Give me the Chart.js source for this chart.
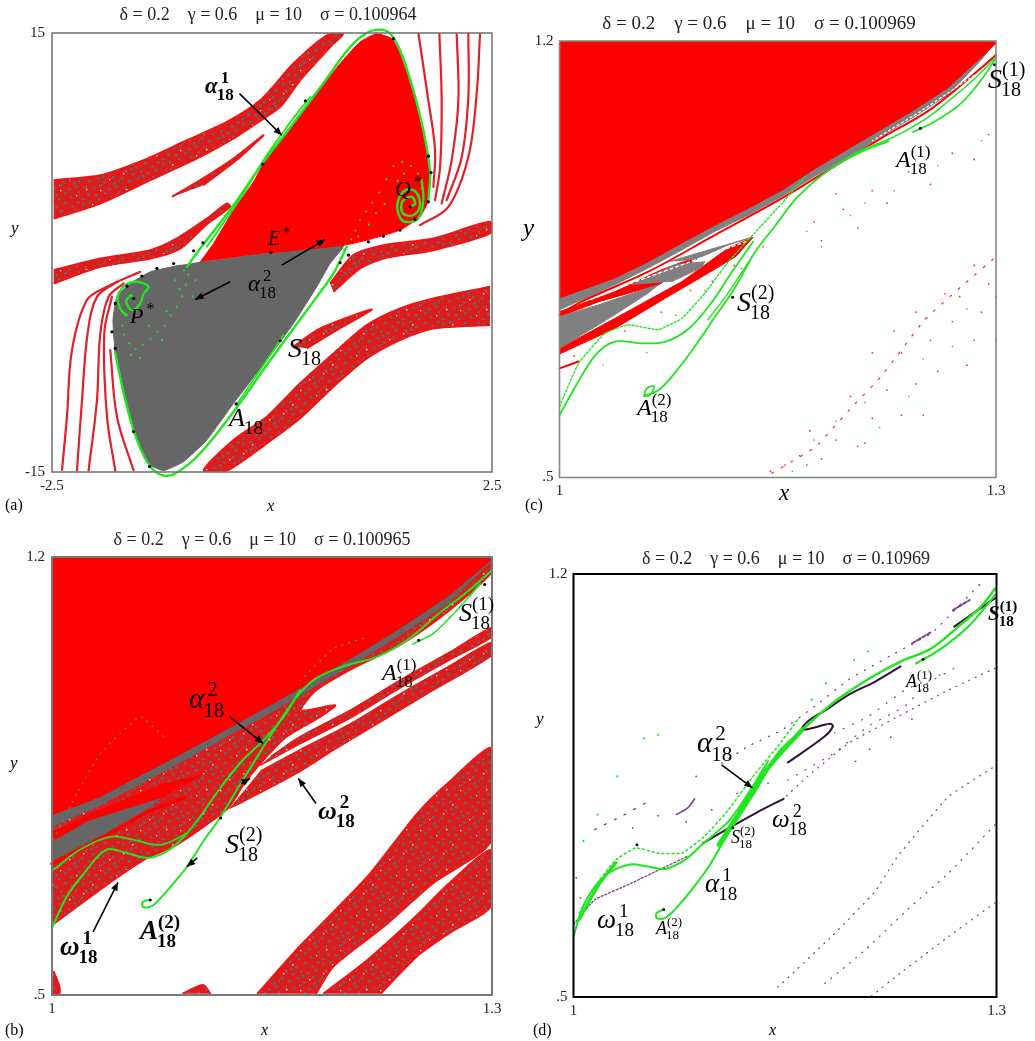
<!DOCTYPE html>
<html>
<head>
<meta charset="utf-8">
<title>Basins of attraction</title>
<script src="https://cdn.jsdelivr.net/npm/chart.js@4/dist/chart.umd.min.js"></script>
<style>
  html, body { margin: 0; padding: 0; background: #fff; }
  #page { position: relative; width: 1035px; height: 1041px; overflow: hidden; }
  canvas { position: absolute; }
</style>
</head>
<body>
<div id="page"></div>
<script>
// --- Titles and tick labels ---
const titleA = 'δ = 0.2    γ = 0.6    μ = 10    σ = 0.100964';
const titleB = 'δ = 0.2    γ = 0.6    μ = 10    σ = 0.100965';
const titleC = 'δ = 0.2    γ = 0.6    μ = 10    σ = 0.100969';
const titleD = 'δ = 0.2    γ = 0.6    μ = 10    σ = 0.10969';
const ticksXA = [-2.5, 2.5];
const ticksYA = [-15, 15];
const ticksX = [1, 1.3];
const ticksY = [0.5, 1.2];
const tickLabelsY = ['.5', '1.2'];

// --- Panel (a) data as [x, y] ---
const aRed = [[-.816,-.64],[-.664,.62],[-.437,2.89],[-.21,4.83],[-.097,6.08],[.131,7.9],[.509,10.86],[.774,12.91],[1.001,14.39],[1.19,14.95],[1.361,14.61],[1.455,13.59],[1.607,10.86],[1.72,8.13],[1.796,5.4],[1.777,3.57],[1.682,2.44],[1.455,1.53],[1.077,.84],[.812,.5],[-.021,-.02]];
const aGray = [[-.816,-.64],[.812,.5],[.66,-.75],[.509,-2.34],[.244,-4.85],[-.059,-7.35],[-.437,-10.31],[-.74,-12.81],[-1.005,-14.29],[-1.232,-14.9],[-1.383,-14.52],[-1.535,-12.81],[-1.667,-10.08],[-1.781,-6.9],[-1.807,-4.62],[-1.762,-3.03],[-1.611,-2.12],[-1.383,-1.32],[-1.043,-.86]];
const aBandUpper = [[-2.481,4.94],[-1.951,5.28],[-1.459,6.31],[-.967,7.67],[-.513,8.92],[-.134,10.4],[.244,12.91],[.623,14.84],[.812,14.95],[.698,14.27],[.32,11.77],[.093,9.95],[-.21,8.7],[-.437,7.79],[-.816,6.53],[-1.383,4.94],[-1.951,3.35],[-2.481,2.32]];
const aSliverUpper = [[-1.137,3.8],[-.816,4.94],[-.437,6.42],[-.097,8.01],[-.361,6.53],[-.778,4.6]];
const aBandLower = [[2.477,-2.34],[1.834,-3.14],[1.455,-3.82],[1.077,-4.96],[.698,-6.9],[.32,-8.94],[-.059,-11.22],[-.437,-12.81],[-.778,-14.9],[-.513,-14.9],[-.059,-13.04],[.32,-11.33],[.698,-9.17],[1.077,-7.24],[1.455,-5.98],[1.834,-5.19],[2.477,-4.96]];
const aSliverLower = [[.244,-6.44],[.547,-5.19],[1.134,-3.89],[.736,-5.3],[.395,-6.55]];
const aBandMidLeft = [[-2.481,-1.21],[-1.951,-.41],[-1.383,.16],[-1.081,.96],[-.74,2.32],[-.513,3.35],[-.475,3.12],[-.74,1.94],[-1.043,.27],[-1.383,-.41],[-1.951,-.98],[-2.481,-2.12]];
const aBandMidRight = [[.66,-2.12],[.925,-.18],[1.266,.5],[1.834,.96],[2.477,2.1],[2.477,1.3],[1.834,.16],[1.266,-.41],[1.001,-1.09],[.698,-2.68]];
const aStrandsLeft = [
  [[-2.386,-14.86],[-2.33,-11.22],[-2.273,-6.67],[-2.103,-3.25],[-1.875,-2.34],[-1.497,-1.32]],
  [[-2.216,-14.9],[-2.159,-10.08],[-2.095,-5.53],[-1.989,-3.03],[-1.762,-2]],
  [[-2.084,-14.9],[-1.989,-10.08],[-1.951,-5.53],[-1.857,-3.03],[-1.686,-2.12]],
  [[-1.781,-14.9],[-1.875,-11.22],[-1.906,-5.53],[-1.819,-3.03]],
  [[-1.573,-14.9],[-1.762,-11.22],[-1.838,-6.67]]
];
const aStrandsRight = [
  [[2.364,14.95],[2.326,10.86],[2.231,6.53],[2.004,3.12],[1.682,1.87]],
  [[2.231,14.95],[2.231,10.63],[2.156,6.53],[1.985,3.57]],
  [[2.099,14.95],[2.118,10.4],[2.042,6.31],[1.928,3.35]],
  [[1.902,14.95],[1.928,10.4],[1.91,5.85],[1.853,3.57]],
  [[1.664,14.95],[1.777,10.4],[1.853,6.99],[1.834,4.48]]
];
const aGreenUpper = [[-.967,-.98],[-.816,.27],[-.437,3.23],[-.097,6.19],[.168,8.24],[.547,11.27],[.888,14.04],[1.077,15],[1.228,15.23],[1.342,14.95],[1.455,13.82],[1.607,11.09],[1.72,8.35],[1.796,5.51],[1.777,3.6]];
const aGreenLower = [[.85,.39],[.698,-1.43],[.509,-3.03],[.244,-5.19],[-.059,-7.69],[-.437,-10.88],[-.816,-13.72],[-1.081,-15.04],[-1.232,-15.25],[-1.383,-14.63],[-1.535,-12.81],[-1.667,-10.08],[-1.781,-6.9]];
const aAttractorLower = [[-.4,-10.35],[-.134,-8.03],[.131,-5.64]];
const aAttractorUpper = [[.433,10.63],[.168,8.58],[-.097,6.31],[-.324,4.03],[-.74,.39]];
const aSpiralQ = [[1.569,3.12],[1.626,3.35],[1.588,3.8],[1.493,3.57],[1.47,2.9],[1.52,2.55],[1.62,2.6],[1.68,3.2],[1.64,4.1],[1.53,4.3],[1.436,3.6],[1.436,2.66],[1.512,2.1],[1.664,2.32],[1.72,3.57],[1.701,4.94]];
const aSpiralP = [[-1.573,-3.14],[-1.603,-2.91],[-1.656,-3.37],[-1.592,-3.94],[-1.5,-3.5],[-1.459,-2.8],[-1.402,-2.34],[-1.535,-2],[-1.667,-2.23],[-1.754,-3.03],[-1.72,-3.9],[-1.65,-4.3]];
const aCloudP = [[-1.7,-5],[-1.68,-5.6],[-1.62,-6.2],[-1.55,-6.6],[-1.47,-6.3],[-1.38,-5.9],[-1.3,-5.4],[-1.22,-5],[-1.15,-4.3],[-1.08,-3.7],[-1.02,-3],[-.98,-2.2],[-.95,-1.5],[-1.05,-2.5],[-1.2,-4],[-1.1,-1.9],[-1,-1.2],[-1.4,-5],[-1.25,-6],[-1.5,-7.2],[-1.6,-7],[-.9,-3],[-.87,-1.9]];
const aCloudQ = [[1.7,4.4],[1.66,5.4],[1.58,5.9],[1.48,6.2],[1.38,5.9],[1.3,5],[1.22,4.1],[1.14,3.4],[1.07,2.8],[1,2.2],[.95,1.5],[.9,.9],[.82,.2],[.78,-.4],[1.18,2.7],[1.1,1.9],[.98,1.1],[1.5,5.4],[1.28,3.3],[1.43,4.9]];
const aBlackDots = [[1.38,14.61],[1.777,6.58],[1.807,5.46],[1.777,3.46],[1.626,2.25],[1.455,1.53],[1.266,1.12],[1.096,.73],[.869,-.18],[.774,-.7],[.093,-6.03],[-.407,-10.35],[-1.391,-14.63],[-1.573,-12.24],[-1.781,-6.55],[-1.819,-5.42],[-1.781,-3.48],[-1.648,-2.3],[-1.478,-1.61],[-1.308,-1.09],[-1.118,-.75],[-.891,.12],[-.785,.66],[-.104,6.03],[.38,10.36],[-.013,0],[1.569,3.12],[-1.573,-3.14]];
const aArrows = [[-.369,10.86,.112,8.01],[.112,-.86,.604,.89],[-.475,-2,-.872,-3.21]];

// --- Panel (b) data ---
const bRed = [[1,1.2],[1.3,1.2],[1.3,1.197],[1.271,1.139],[1.237,1.086],[1.215,1.054],[1.192,1.022],[1.169,.99],[1.146,.96],[1.124,.931],[1.101,.902],[1.078,.873],[1.056,.846],[1.033,.817],[1,.788]];
const bGrayStrip = [[1,1.2],[1.3,1.2],[1.3,1.195],[1.271,1.128],[1.237,1.075],[1.215,1.043],[1.192,1.011],[1.169,.979],[1.146,.947],[1.124,.92],[1.101,.889],[1.078,.86],[1.056,.833],[1.033,.804],[1,.769]];
const bBandMain = [[1,1.2],[1.3,1.2],[1.3,1.176],[1.271,1.115],[1.237,1.059],[1.205,1.022],[1.18,.987],[1.17,.955],[1.193,.963],[1.183,.945],[1.16,.913],[1.144,.875],[1.131,.838],[1.121,.801],[1.11,.78],[1.085,.74],[1.065,.719],[1.044,.687],[1,.612]];
const bBandOne = [[1.149,.881],[1.169,.913],[1.203,.955],[1.237,1.003],[1.271,1.048],[1.3,1.088],[1.3,1.072],[1.271,1.035],[1.237,.99],[1.203,.942],[1.169,.901],[1.142,.867]];
const bBandTwo = [[1.142,.858],[1.169,.892],[1.203,.933],[1.237,.981],[1.271,1.026],[1.3,1.064],[1.3,1.043],[1.26,.987],[1.226,.939],[1.192,.891],[1.169,.857],[1.133,.812],[1.121,.798]];
const bBandWide = [[1.14,.502],[1.169,.578],[1.215,.689],[1.249,.79],[1.271,.841],[1.3,.894],[1.3,.748],[1.26,.679],[1.226,.609],[1.192,.546],[1.18,.502]];
const bBandNarrow = [[1.185,.502],[1.215,.556],[1.249,.628],[1.271,.679],[1.3,.732],[1.3,.644],[1.271,.599],[1.249,.562],[1.224,.502]];
const bPatchMid = [[1.089,.502],[1.103,.516],[1.108,.502]];
const bPatchLeft = [[1.001,.538],[1.005,.514],[1.005,.502],[1,.502]];
const bRedFinger = [[1.001,.761],[1.033,.796],[1.074,.836],[1.103,.852],[1.087,.833],[1.074,.812],[1.024,.774],[1.001,.75]];
const bGrayWedge = [[1.001,.745],[1.024,.777],[1.074,.814],[1.065,.798],[1.04,.764],[1.001,.716]];
const bRedFringe = [[1,.71],[1.04,.758],[1.065,.792],[1.09,.815]];
const bGreenMain = [[1.067,.652],[1.062,.649],[1.062,.641],[1.068,.642],[1.074,.655],[1.083,.679],[1.092,.705],[1.103,.745],[1.115,.785],[1.126,.828],[1.14,.881],[1.153,.929],[1.167,.977],[1.18,1.006],[1.201,1.027],[1.221,1.04],[1.242,1.067],[1.264,1.11],[1.283,1.144],[1.3,1.179]];
const bGreenSecond = [[1,.607],[1.01,.657],[1.022,.695],[1.037,.732],[1.051,.727],[1.065,.719],[1.078,.729],[1.09,.753],[1.101,.785],[1.112,.822],[1.128,.87],[1.144,.907],[1.158,.945],[1.169,.987]];
const bGreenThird = [[1.001,.7],[1.019,.732],[1.04,.753],[1.056,.748],[1.074,.74],[1.092,.758]];
const bGreenArrive = [[1.246,1.061],[1.26,1.078],[1.276,1.115],[1.292,1.157]];
const bGreenFaint = [[1.001,.748],[1.017,.822],[1.033,.886],[1.06,.945],[1.076,.913]];
const bGreenFaintTop = [[1.169,1.002],[1.192,1.054],[1.215,1.072]];
const bBlackDots = [[1.295,1.156],[1.115,.783],[1.067,.652],[1.25,1.067]];
const bArrows = [[1.121,.945,1.144,.902],[1.18,.806,1.168,.846],[1.028,.601,1.045,.68],[1.099,.719,1.092,.705],[1.129,.838,1.135,.846]];

// --- Panel (c) data ---
const cRed = [[1,1.2],[1.3,1.2],[1.3,1.196],[1.267,1.125],[1.244,1.09],[1.221,1.058],[1.199,1.028],[1.176,.996],[1.153,.961],[1.13,.932],[1.107,.905],[1.084,.876],[1.061,.846],[1.038,.82],[1,.788]];
const cGrayStrip = [[1,1.2],[1.3,1.2],[1.29,1.17],[1.267,1.114],[1.244,1.079],[1.221,1.047],[1.199,1.015],[1.176,.984],[1.153,.951],[1.13,.921],[1.107,.895],[1.084,.865],[1.061,.836],[1.038,.809],[1,.769]];
const cRedStrand = [[1.3,1.178],[1.29,1.157],[1.256,1.092],[1.221,1.044],[1.189,.999],[1.153,.948],[1.107,.889],[1.061,.83],[1.015,.782],[1,.761]];
const cLowerBand = [[1,.707],[1.038,.755],[1.084,.814],[1.116,.868],[1.133,.885],[1.121,.854],[1.098,.822],[1.073,.788],[1.038,.739],[1,.698]];
const cGrayWedge = [[1,.758],[1.027,.777],[1.068,.809],[1.061,.796],[1.038,.761],[1,.707]];
const cRedFinger = [[1,.766],[1.038,.798],[1.07,.833],[1.098,.857],[1.079,.825],[1.068,.809],[1.027,.782],[1,.758]];
const cGrayFingerLow = [[1.05,.809],[1.079,.841],[1.1,.846],[1.097,.836],[1.077,.814]];
const cGrayFingerHigh = [[1.075,.846],[1.107,.868],[1.132,.885],[1.116,.873],[1.093,.849]];
const cWhiteStreak = [[1.022,.786],[1.05,.812],[1.084,.841],[1.128,.878]];
const cWhiteUpper = [[1.285,1.145],[1.25,1.09],[1.215,1.04]];
const cRedSegment = [[1,.675],[1.013,.686]];
const cGreenMain = [[1.058,.631],[1.06,.643],[1.065,.646],[1.062,.632],[1.058,.631],[1.068,.64],[1.079,.667],[1.093,.71],[1.107,.758],[1.121,.806],[1.134,.86],[1.148,.903],[1.164,.951],[1.187,.996],[1.208,1.023],[1.226,1.039]];
const cGreenSecond = [[1,.6],[1.011,.646],[1.025,.697],[1.038,.718],[1.057,.715],[1.073,.718],[1.089,.739],[1.105,.782],[1.118,.828],[1.133,.878]];
const cGreenDotted = [[1,.614],[1.013,.683],[1.031,.731],[1.047,.745],[1.068,.737],[1.084,.755],[1.1,.796],[1.116,.846],[1.134,.892],[1.153,.94],[1.169,.983]];
const cGreenShort = [[1.102,.753],[1.116,.796],[1.13,.846]];
const cGreenUpper = [[1.189,.999],[1.208,1.026],[1.226,1.042],[1.251,1.074],[1.267,1.103],[1.286,1.141],[1.3,1.175]];
const cGreenArrive = [[1.243,1.054],[1.258,1.071],[1.276,1.1],[1.29,1.138],[1.3,1.173]];
const cDotsRedOne = [[1.146,.507],[1.176,.549],[1.199,.608],[1.221,.662],[1.251,.753],[1.279,.812],[1.3,.854]];
const cScatterRed = [[1.155,.52],[1.165,.535],[1.18,.53],[1.19,.56],[1.172,.575],[1.205,.55],[1.215,.595],[1.2,.63],[1.225,.64],[1.235,.6],[1.245,.65],[1.235,.7],[1.26,.67],[1.255,.72],[1.27,.75],[1.285,.72],[1.29,.765],[1.275,.79],[1.295,.81],[1.285,.84],[1.215,.7],[1.23,.735],[1.245,.765],[1.265,.795],[1.175,.91],[1.18,.88],[1.195,.93],[1.205,.9],[1.19,.955],[1.215,.96],[1.225,.94],[1.24,.99],[1.255,.97],[1.27,1.02],[1.285,1.01],[1.295,1.05],[1.01,.695],[1.02,.72],[1.045,.735],[1.07,.765],[1.09,.8],[1.105,.815],[1.12,.84],[1.14,.87],[1.21,.555],[1.25,.6],[1.28,.68],[1.3,.72],[1.3,.79],[1.17,.52],[1.145,.51]];
const cScatterGray = [[1.16,.51],[1.175,.56],[1.19,.59],[1.21,.62],[1.22,.58],[1.24,.63],[1.25,.69],[1.27,.71],[1.28,.77],[1.18,.87],[1.2,.92],[1.23,.96],[1.26,1],[1.29,1.04],[1.03,.68],[1.06,.7],[1.08,.76],[1.1,.8],[1.125,.835],[1.17,.895],[1.21,.94]];
const cBlackDots = [[1.119,.789],[1.248,1.06],[1.299,1.162]];

// --- Panel (d) data ---
const dGreenMain = [[1.064,.645],[1.059,.639],[1.059,.631],[1.065,.631],[1.072,.645],[1.084,.678],[1.096,.716],[1.107,.76],[1.119,.804],[1.131,.848],[1.145,.904],[1.162,.942]];
const dGreenThick = [[1.103,.752],[1.119,.81],[1.138,.879],[1.162,.942]];
const dGreenUpper = [[1.162,.942],[1.181,.981],[1.195,1.005],[1.214,1.033],[1.232,1.055],[1.254,1.077],[1.273,1.113],[1.289,1.146],[1.299,1.176]];
const dGreenArrive = [[1.243,1.052],[1.261,1.077],[1.28,1.113],[1.299,1.165]];
const dGreenLeft = [[1,.601],[1.008,.656],[1.022,.7],[1.039,.719],[1.053,.716],[1.065,.712],[1.079,.727],[1.091,.752],[1.11,.791],[1.124,.837],[1.138,.89]];
const dGreenLeftThick = [[1.004,.628],[1.018,.686],[1.03,.722]];
const dGreenDotted = [[1.004,.639],[1.015,.683],[1.03,.727],[1.044,.747],[1.06,.738],[1.077,.738],[1.093,.766],[1.11,.81],[1.129,.87],[1.145,.915],[1.159,.959]];
const dGreenSpecks = [[1.05,.928],[1.06,.934],[1.031,.865],[1.017,.802],[1.007,.758],[1.209,1.072],[1.199,1.058],[1.179,1.019],[1.169,.992]];
const dPurpleOmega = [[1,.62],[1.015,.661],[1.039,.686],[1.063,.713],[1.081,.733]];
const dBlackOmega = [[1.092,.755],[1.112,.782],[1.129,.804],[1.149,.828]];
const dHookLarge = [[1.152,.888],[1.178,.931],[1.184,.948],[1.182,.952],[1.166,.943],[1.162,.943],[1.166,.956],[1.181,.978],[1.195,1],[1.214,1.022],[1.232,1.047]];
const dHookSmall = [[1.073,.802],[1.081,.813],[1.086,.828]];
const dBlackEnd = [[1.27,1.113],[1.299,1.16]];
const dDashOne = [[1.269,1.14],[1.281,1.157]];
const dDashTwo = [[1.24,1.085],[1.253,1.103]];
const dDotsOne = [[1.299,1.044],[1.266,1.008],[1.23,.964],[1.195,.92],[1.166,.865],[1.148,.826]];
const dDotsTwo = [[1.297,.879],[1.266,.832],[1.23,.733],[1.214,.675],[1.183,.6],[1.142,.51]];
const dDotsThree = [[1.299,.785],[1.266,.705],[1.237,.645],[1.207,.578],[1.176,.518]];
const dDotsFour = [[1.299,.656],[1.266,.6],[1.232,.54],[1.211,.501]];
const dDotsFive = [[1.105,.887],[1.124,.915],[1.148,.942],[1.171,.981],[1.195,1.025],[1.228,1.069],[1.254,1.102],[1.289,1.185]];
const dDotsSix = [[1.015,.777],[1.034,.799],[1.055,.826]];
const dDotsSeven = [[1.152,.859],[1.185,.904],[1.209,.948],[1.235,.981],[1.251,1.019],[1.275,1.05]];
const dDotsEight = [[1.185,.937],[1.209,.964],[1.235,1.008],[1.263,1.036]];
const dPurpleSpecks = [[1.087,.865],[1.098,.81],[1.116,.837],[1.138,.854],[1.002,.697],[1.005,.664],[1.06,.8],[1.042,.78],[1.08,.79],[1.21,.91],[1.225,.93],[1.24,.96],[1.2,.89]];
const dBlackDots = [[1.248,1.059],[1.064,.645],[1.113,.78],[1.045,.752]];
const dArrows = [[1.105,.884,1.127,.846]];

// --- Colours ---
const RED = '#ff0000';
const GRAY_DARK = '#666666';
const GRAY_MID = '#808080';
const GREEN = '#20e620';
const PURPLE = '#7d3c8e';
const PURPLE_DARK = '#35103f';

// Small hand made tile for the speckled red/gray basins
const SPECK_GRAY = [[2,3],[9,1],[15,6],[24,2],[31,5],[37,1],[5,10],[12,13],[20,10],[27,12],[35,9],[1,17],[8,20],[17,17],[23,21],[32,16],[38,20],[4,26],[13,27],[19,24],[28,28],[35,25],[7,33],[15,34],[24,32],[30,36],[38,31],[2,38],[18,38],[10,8],[33,22],[22,15]];
const SPECK_WHITE = [[12,4],[29,19],[6,29],[36,35],[20,30],[3,13]];

function speckPattern() {
    const tile = document.createElement('canvas');
    tile.width = 40; tile.height = 40;
    const c = tile.getContext('2d');
    c.fillStyle = '#de1c1c';
    c.fillRect(0, 0, 40, 40);
    c.fillStyle = '#6f6262';
    SPECK_GRAY.forEach(p => c.fillRect(p[0], p[1], 2.6, 2.6));
    c.fillStyle = '#f3dcdc';
    SPECK_WHITE.forEach(p => c.fillRect(p[0], p[1], 1.4, 1.4));
    return c.createPattern(tile, 'repeat');
}

const speck = speckPattern();
const toXY = pts => pts.map(p => ({ x: p[0], y: p[1] }));

// Filled closed region
function area(pts, color, tension) {
    return { data: toXY(pts), showLine: true, fill: 'shape', backgroundColor: color, borderColor: color, borderWidth: 1, pointRadius: 0, tension: tension || 0 };
}
// Speckled basin with a plain red rim
function band(pts, rim) {
    return { data: toXY(pts), showLine: true, fill: 'shape', backgroundColor: speck, borderColor: '#f01414', borderWidth: rim || 2, pointRadius: 0, tension: 0.25 };
}
function curve(pts, color, width, dash) {
    return { data: toXY(pts), showLine: true, fill: false, borderColor: color, borderWidth: width, borderDash: dash || [], borderCapStyle: 'round', pointRadius: 0, tension: dash ? 0.1 : 0.35, clip: 6 };
}
function dots(pts, color, r) {
    return { data: toXY(pts), showLine: false, backgroundColor: color, borderWidth: 0, pointRadius: r, clip: 4 };
}

// --- Text annotations, page pixels ---
const textA = [
    { t: 'α', sub: '18', sup: '1', x: 205, y: 93, size: 23, bold: true },
    { t: 'E', sup: '*', x: 268, y: 245, size: 20 },
    { t: 'α', sub: '18', sup: '2', x: 248, y: 291, size: 23 },
    { t: 'Q', sup: '*', x: 395, y: 196, size: 22 },
    { t: 'P', sup: '*', x: 130, y: 323, size: 22 },
    { t: 'S', sub: '18', x: 288, y: 357, size: 28 },
    { t: 'A', sub: '18', x: 229, y: 426, size: 26 },
    { t: 'x', x: 267, y: 511, size: 16 },
    { t: 'y', x: 11, y: 233, size: 17 },
    { t: '(a)', x: 5, y: 510, size: 16, roman: true }
];
const textB = [
    { t: 'α', sub: '18', sup: '2', x: 189, y: 708, size: 29 },
    { t: 'ω', sub: '18', sup: '2', x: 318, y: 819, size: 26, bold: true },
    { t: 'S', sub: '18', sup: '(2)', x: 225, y: 853, size: 28 },
    { t: 'A', sub: '18', sup: '(2)', x: 140, y: 939, size: 27, bold: true },
    { t: 'ω', sub: '18', sup: '1', x: 60, y: 955, size: 27, bold: true },
    { t: 'A', sub: '18', sup: '(1)', x: 382, y: 680, size: 24 },
    { t: 'S', sub: '18', sup: '(1)', x: 459, y: 621, size: 26 },
    { t: 'x', x: 261, y: 1035, size: 16 },
    { t: 'y', x: 10, y: 768, size: 17 },
    { t: '(b)', x: 5, y: 1035, size: 16, roman: true }
];
const textC = [
    { t: 'S', sub: '18', sup: '(1)', x: 988, y: 88, size: 28 },
    { t: 'A', sub: '18', sup: '(1)', x: 896, y: 167, size: 24 },
    { t: 'S', sub: '18', sup: '(2)', x: 737, y: 311, size: 28 },
    { t: 'A', sub: '18', sup: '(2)', x: 637, y: 415, size: 24 },
    { t: 'x', x: 779, y: 500, size: 23 },
    { t: 'y', x: 523, y: 236, size: 25 },
    { t: '(c)', x: 525, y: 510, size: 16, roman: true }
];
const textD = [
    { t: 'α', sub: '18', sup: '2', x: 697, y: 752, size: 29 },
    { t: 'ω', sub: '18', sup: '2', x: 772, y: 827, size: 25 },
    { t: 'S', sub: '18', sup: '(2)', x: 731, y: 843, size: 18 },
    { t: 'α', sub: '18', sup: '1', x: 705, y: 892, size: 27 },
    { t: 'ω', sub: '18', sup: '1', x: 597, y: 928, size: 27 },
    { t: 'A', sub: '18', sup: '(2)', x: 656, y: 934, size: 18 },
    { t: 'A', sub: '18', sup: '(1)', x: 906, y: 687, size: 18 },
    { t: 'S', sub: '18', sup: '(1)', x: 988, y: 620, size: 21, bold: true },
    { t: 'x', x: 769, y: 1035, size: 16 },
    { t: 'y', x: 536, y: 724, size: 17 },
    { t: '(d)', x: 533, y: 1035, size: 16, roman: true }
];

// Plugin: frame, arrows and the math labels
const overlayPlugin = {
    id: 'overlay',
    afterDatasetsDraw(chart, args, opts) {
        const ctx = chart.ctx, a = chart.chartArea, sx = chart.scales.x, sy = chart.scales.y;
        ctx.save();
        ctx.strokeStyle = opts.frame;
        ctx.lineWidth = opts.frameWidth;
        ctx.strokeRect(a.left, a.top, a.right - a.left, a.bottom - a.top);

        ctx.strokeStyle = '#000'; ctx.fillStyle = '#000'; ctx.lineWidth = 1.6;
        opts.arrows.forEach(ar => {
            const x0 = sx.getPixelForValue(ar[0]), y0 = sy.getPixelForValue(ar[1]);
            const x1 = sx.getPixelForValue(ar[2]), y1 = sy.getPixelForValue(ar[3]);
            const ang = Math.atan2(y1 - y0, x1 - x0);
            ctx.beginPath(); ctx.moveTo(x0, y0); ctx.lineTo(x1, y1); ctx.stroke();
            ctx.beginPath();
            ctx.moveTo(x1, y1);
            ctx.lineTo(x1 - 9 * Math.cos(ang - 0.4), y1 - 9 * Math.sin(ang - 0.4));
            ctx.lineTo(x1 - 9 * Math.cos(ang + 0.4), y1 - 9 * Math.sin(ang + 0.4));
            ctx.closePath(); ctx.fill();
        });

        ctx.textBaseline = 'alphabetic'; ctx.textAlign = 'left';
        const fam = '"Liberation Serif", serif';
        opts.labels.forEach(l => {
            const px = l.x - opts.left, py = l.y - opts.top;
            const w = l.bold ? 'bold ' : '';
            ctx.font = (l.roman ? '' : 'italic ') + w + l.size + 'px ' + fam;
            ctx.fillText(l.t, px, py);
            const adv = px + ctx.measureText(l.t).width;
            const small = Math.round(l.size * 0.72);
            ctx.font = w + small + 'px ' + fam;
            if (l.sub) ctx.fillText(l.sub, adv - 1, py + l.size * 0.3);
            if (l.sup) ctx.fillText(l.sup, adv + (l.sup.length > 1 ? 0 : 3), py - l.size * 0.42);
        });
        ctx.restore();
    }
};

// Build one panel. box = canvas rect, plot = plot area rect, both in page pixels.
function panel(cfg) {
    const el = document.createElement('canvas');
    const b = cfg.box, p = cfg.plot;
    el.width = b.w; el.height = b.h;
    el.style.left = b.left + 'px'; el.style.top = b.top + 'px';
    document.getElementById('page').appendChild(el);

    const titleH = cfg.titleSize * 1.2;
    const padTop = cfg.titleY - titleH / 2 - b.top;
    const padBottom = p.top - b.top - padTop - titleH;
    const tickFont = { family: '"Liberation Serif", serif', size: 15 };

    new Chart(el.getContext('2d'), {
        type: 'scatter',
        data: { datasets: cfg.layers.slice().reverse() },
        plugins: [overlayPlugin],
        options: {
            responsive: false, animation: false, devicePixelRatio: 1,
            layout: { autoPadding: false, padding: 0 },
            scales: {
                x: {
                    type: 'linear', min: cfg.xTicks[0], max: cfg.xTicks[1], position: 'bottom',
                    grid: { display: false, drawTicks: false, tickLength: 0 }, border: { display: false },
                    afterBuildTicks: s => { s.ticks = cfg.xTicks.map(v => ({ value: v })); },
                    afterFit: s => { s.height = b.top + b.h - p.bottom; },
                    ticks: { autoSkip: false, maxRotation: 0, padding: 5, color: '#222', font: tickFont,
                        callback: v => String(v) }
                },
                y: {
                    type: 'linear', min: cfg.yTicks[0], max: cfg.yTicks[1], position: 'left',
                    grid: { display: false, drawTicks: false, tickLength: 0 }, border: { display: false },
                    afterBuildTicks: s => { s.ticks = cfg.yTicks.map(v => ({ value: v })); },
                    afterFit: s => { s.width = p.left - b.left; },
                    ticks: { autoSkip: false, padding: cfg.yPad, color: '#222', font: tickFont,
                        callback: v => cfg.yLabels ? cfg.yLabels[cfg.yTicks.indexOf(v)] : String(v) }
                },
                // empty right hand axis, only reserves room so the title stays centred on the canvas
                spare: {
                    type: 'linear', axis: 'y', position: 'right', display: true,
                    grid: { display: false }, border: { display: false }, ticks: { display: false },
                    afterFit: s => { s.width = b.left + b.w - p.right; }
                }
            },
            plugins: {
                legend: { display: false },
                tooltip: { enabled: false },
                title: {
                    display: true, text: cfg.title, color: '#222',
                    font: { family: '"Liberation Serif", serif', size: cfg.titleSize, weight: 'normal', lineHeight: 1.2 },
                    padding: { top: padTop, bottom: padBottom }
                },
                overlay: { frame: cfg.frame, frameWidth: cfg.frameWidth, arrows: cfg.arrows, labels: cfg.labels, left: b.left, top: b.top }
            }
        }
    });
}

panel({
    box: { left: 0, top: 0, w: 536, h: 515 }, plot: { left: 52, right: 492, top: 33, bottom: 472 },
    title: titleA, titleY: 15, titleSize: 18, xTicks: ticksXA, yTicks: ticksYA, yPad: 7,
    frame: '#777', frameWidth: 1.6, arrows: aArrows, labels: textA,
    layers: [
        band(aBandUpper), band(aSliverUpper), band(aBandLower), band(aSliverLower), band(aBandMidLeft), band(aBandMidRight),
        ...aStrandsLeft.map(s => curve(s, '#e0202a', 2.2)),
        ...aStrandsRight.map(s => curve(s, '#e0202a', 2.2)),
        area(aGray, GRAY_DARK, 0.15), area(aRed, RED, 0.15),
        curve(aGreenUpper, GREEN, 2.4), curve(aGreenLower, GREEN, 2.4),
        curve(aAttractorLower, GREEN, 1.6), curve(aAttractorUpper, GREEN, 1.8),
        dots(aCloudQ, '#2fd02f', 1.1), dots(aCloudP, '#2fd02f', 1.1),
        curve(aSpiralQ, GREEN, 2.4), curve(aSpiralP, GREEN, 2.4),
        dots(aBlackDots, '#000', 1.6)
    ]
});

panel({
    box: { left: 0, top: 520, w: 524, h: 521 }, plot: { left: 52, right: 492, top: 557, bottom: 995 },
    title: titleB, titleY: 540, titleSize: 18, xTicks: ticksX, yTicks: ticksY, yLabels: tickLabelsY, yPad: 7,
    frame: '#777', frameWidth: 2, arrows: bArrows, labels: textB,
    layers: [
        band(bBandMain), band(bBandOne, 1.2), band(bBandTwo, 1.2), band(bBandWide), band(bBandNarrow), band(bPatchMid), band(bPatchLeft),
        area(bGrayStrip, GRAY_DARK), area(bRed, RED),
        curve(bRedFringe, RED, 3.5),
        area(bRedFinger, RED), area(bGrayWedge, GRAY_DARK),
        curve(bGreenFaint, '#3aa83a', 1.2, [1, 6]), curve(bGreenFaintTop, '#3aa83a', 1.2, [1, 6]),
        curve(bGreenThird, GREEN, 1.8), curve(bGreenSecond, GREEN, 2),
        curve(bGreenMain, GREEN, 2), curve(bGreenArrive, GREEN, 1.6),
        dots(bBlackDots, '#000', 1.5)
    ]
});

panel({
    box: { left: 483, top: 0, w: 552, h: 515 }, plot: { left: 559.5, right: 996, top: 41, bottom: 477.5 },
    title: titleC, titleY: 24, titleSize: 19, xTicks: ticksX, yTicks: ticksY, yLabels: tickLabelsY, yPad: 6,
    frame: '#888', frameWidth: 1.6, arrows: [], labels: textC,
    layers: [
        area(cGrayStrip, GRAY_MID), area(cRed, RED),
        curve(cRedStrand, RED, 2), curve(cRedSegment, RED, 2),
        area(cLowerBand, RED), area(cRedFinger, RED), area(cGrayWedge, GRAY_MID),
        area(cGrayFingerLow, GRAY_MID), area(cGrayFingerHigh, GRAY_MID),
        curve(cWhiteStreak, '#fff', 1.4, [3, 3]), curve(cWhiteUpper, '#fff', 1.2, [2, 3]),
        curve(cDotsRedOne, '#e8302c', 1.2, [2, 9]),
        dots(cScatterRed, '#ec3a36', 0.9), dots(cScatterGray, '#858585', 0.8),
        curve(cGreenDotted, GREEN, 1.4, [2, 2]), curve(cGreenShort, GREEN, 1.4),
        curve(cGreenSecond, GREEN, 1.8), curve(cGreenMain, GREEN, 1.8), curve(cGreenUpper, GREEN, 1.5), curve(cGreenArrive, GREEN, 1.8),
        dots(cBlackDots, '#000', 1.5)
    ]
});

panel({
    box: { left: 527, top: 520, w: 518, h: 521 }, plot: { left: 573.5, right: 996.5, top: 574, bottom: 997 },
    title: titleD, titleY: 559, titleSize: 18, xTicks: ticksX, yTicks: ticksY, yLabels: tickLabelsY, yPad: 6,
    frame: '#000', frameWidth: 2, arrows: dArrows, labels: textD,
    layers: [
        curve(dDotsOne, PURPLE, 1.2, [1, 6]), curve(dDotsTwo, PURPLE, 1.2, [1, 6]), curve(dDotsThree, PURPLE, 1.2, [1, 7]), curve(dDotsFour, PURPLE, 1.2, [1, 6]),
        curve(dDotsFive, PURPLE, 1.3, [1, 8]), curve(dDotsSix, PURPLE, 1.3, [2, 9]), curve(dDotsSeven, PURPLE, 1.2, [1, 9]), curve(dDotsEight, PURPLE, 1.2, [1, 9]),
        dots(dPurpleSpecks, PURPLE, 0.9),
        curve(dPurpleOmega, PURPLE, 1.3, [2, 2]), curve(dBlackOmega, PURPLE_DARK, 2),
        curve(dHookLarge, PURPLE_DARK, 2), curve(dHookSmall, PURPLE, 1.6), curve(dBlackEnd, PURPLE_DARK, 2),
        curve(dDashOne, PURPLE, 2, [4, 2]), curve(dDashTwo, PURPLE, 2, [4, 2]),
        curve(dGreenDotted, GREEN, 1.5, [2, 3]), dots(dGreenSpecks, GREEN, 1.1),
        curve(dGreenLeft, GREEN, 2), curve(dGreenLeftThick, GREEN, 3.2),
        curve(dGreenMain, GREEN, 2), curve(dGreenThick, GREEN, 4.5),
        curve(dGreenUpper, GREEN, 2.4), curve(dGreenArrive, GREEN, 2.2),
        dots(dBlackDots, '#000', 1.5)
    ]
});
</script>
</body>
</html>
